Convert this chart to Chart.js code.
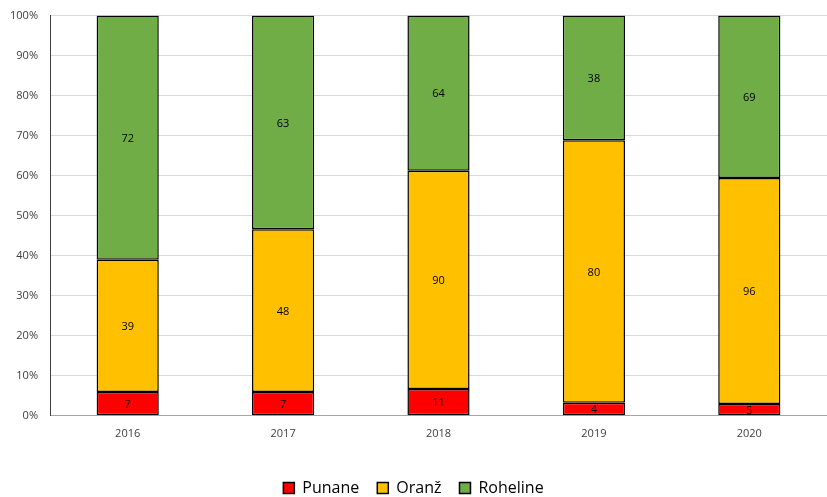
<!DOCTYPE html>
<html>
<head>
<meta charset="utf-8">
<script src="https://cdn.jsdelivr.net/npm/chart.js@4/dist/chart.umd.min.js"></script>
<style>
  html, body { margin: 0; padding: 0; background: #fff; }
  #wrap { width: 827px; height: 497px; position: relative; overflow: hidden; }
  #inner { position: absolute; left: 0; top: -3px; width: 827px; height: 500px; }
</style>
</head>
<body>
<div id="wrap"><div id="inner"><canvas id="chart"></canvas></div></div>
<script>
// aastad ja väärtused
const aastad = ['2016', '2017', '2018', '2019', '2020'];
const punane = [7, 7, 11, 4, 5];
const oranz = [39, 48, 90, 80, 96];
const roheline = [72, 63, 64, 38, 69];

// protsendid 100% tulpade jaoks
const summad = aastad.map((_, i) => punane[i] + oranz[i] + roheline[i]);
const protsent = arr => arr.map((v, i) => v / summad[i] * 100);

// väärtuste sildid tulpade keskel
const sildid = {
    id: 'sildid',
    afterDatasetsDraw(chart) {
        const ctx = chart.ctx;
        ctx.save();
        ctx.font = '11px "Open Sans", sans-serif';
        ctx.fillStyle = '#000';
        ctx.textAlign = 'center';
        ctx.textBaseline = 'middle';
        chart.data.datasets.forEach((ds, di) => {
            const meta = chart.getDatasetMeta(di);
            meta.data.forEach((bar, i) => {
                const y = (bar.y + bar.base) / 2;
                ctx.fillText(ds.toores[i], bar.x, y + 1);
            });
        });
        ctx.restore();
    }
};

const ctx = document.getElementById('chart').getContext('2d');
new Chart(ctx, {
    type: 'bar',
    data: {
        labels: aastad,
        datasets: [
            { label: 'Punane', data: protsent(punane), toores: punane, backgroundColor: '#ff0000' },
            { label: 'Oranž', data: protsent(oranz), toores: oranz, backgroundColor: '#ffc000' },
            { label: 'Roheline', data: protsent(roheline), toores: roheline, backgroundColor: '#70ad47' }
        ].map(d => Object.assign(d, {
            borderColor: '#000',
            borderWidth: 1.5,
            borderSkipped: false,
            categoryPercentage: 0.4,
            barPercentage: 1
        }))
    },
    options: {
        responsive: true,
        maintainAspectRatio: false,
        animation: false,
        layout: { padding: { top: 6, right: 0, left: 0, bottom: -9 } },
        plugins: {
            tooltip: { enabled: false },
            legend: {
                position: 'bottom',
                labels: {
                    font: { family: '"Open Sans", sans-serif', size: 16 },
                    color: '#404040',
                    boxWidth: 11,
                    boxHeight: 11,
                    padding: 18,
                    useBorderRadius: false,
                    generateLabels(chart) {
                        return chart.data.datasets.map((d, i) => ({
                            text: d.label,
                            fillStyle: d.backgroundColor,
                            strokeStyle: '#000',
                            lineWidth: 1.5,
                            datasetIndex: i
                        }));
                    }
                }
            }
        },
        scales: {
            x: {
                stacked: true,
                afterFit(scale) { scale.height += 11; },
                grid: { display: false, drawTicks: false },
                border: { color: '#a6a6a6', width: 1 },
                ticks: {
                    color: '#404040',
                    font: { family: '"Open Sans", sans-serif', size: 11 },
                    padding: 11
                }
            },
            y: {
                stacked: true,
                min: 0,
                max: 100,
                afterFit(scale) { scale.width = 50; },
                grid: { color: '#d9d9d9', drawTicks: false },
                border: { color: '#404040', width: 1 },
                ticks: {
                    stepSize: 10,
                    color: '#404040',
                    font: { family: '"Open Sans", sans-serif', size: 11 },
                    padding: 12,
                    callback: v => v + '%'
                }
            }
        }
    },
    plugins: [sildid]
});
</script>
</body>
</html>
